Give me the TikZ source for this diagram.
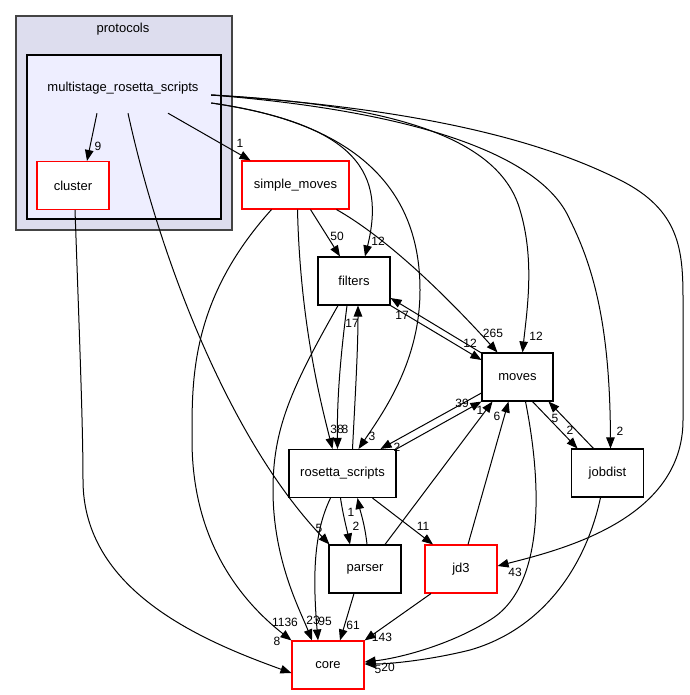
\documentclass[tikz,border=0pt]{standalone}
\usepackage{fontspec}
\setmainfont{Liberation Sans}
\usepackage{xcolor}
\usetikzlibrary{arrows.meta,positioning,calc}
\definecolor{outerfill}{HTML}{DDDDEE}
\definecolor{innerfill}{HTML}{EEEEFF}
\definecolor{outerline}{HTML}{444444}
\definecolor{dirred}{HTML}{FF0000}

\begin{document}
\begin{tikzpicture}[x=1pt, y=-1pt, >={Triangle[length=11pt,width=8.5pt]},
    dir-node/.style={rectangle, draw=black, fill=white, line width=1.1pt, minimum width=72pt,
                minimum height=48pt, inner sep=0pt, font=\fontsize{13}{15}\selectfont},
    red-node/.style={dir-node, draw=dirred},
    wide/.style={minimum width=107pt},
    lbl/.style={inner sep=0pt, font=\fontsize{12}{14}\selectfont},
    dep/.style={->, line width=1pt}]
    \useasboundingbox (0,0) rectangle (689,695);
    % protocols folder and the inner folder
    \draw[fill=outerfill, draw=outerline, line width=1.4pt] (16,16) rectangle (232,230);
    \node[font=\fontsize{13}{15}\selectfont] (protocols) at (123,29) {protocols};
    \draw[fill=innerfill, draw=black, line width=1.2pt] (27,55) rectangle (221,219);
    \node[minimum width=176pt, minimum height=50pt, inner sep=0pt, font=\fontsize{13}{15}\selectfont] (ms) at (123,88) {multistage\_rosetta\_scripts};
    % directories
    \node[red-node] (cluster) at (73,185.5) {cluster};
    \node[red-node, wide] (simple) at (295.5,185) {simple\_moves};
    \node[dir-node] (filters) at (354,281) {filters};
    \node[dir-node, minimum width=71pt] (moves) at (517.5,377) {moves};
    \node[dir-node, wide] (rosetta) at (342.5,473.5) {rosetta\_scripts};
    \node[dir-node] (jobdist) at (607.5,473) {jobdist};
    \node[dir-node] (parser) at (365,569) {parser};
    \node[red-node] (jd3) at (461,569) {jd3};
    \node[red-node] (core) at (328,665) {core};
    % dependencies out of multistage_rosetta_scripts
    \draw[dep] ([xshift=-26]ms.south) -- ([xshift=14]cluster.north);
    \draw[dep] ([xshift=45]ms.south) -- ([xshift=-45]simple.north);
    \draw[dep] ([xshift=5]ms.south) .. controls (160,260) and (230,440) .. ([xshift=1]parser.north west);
    \draw[dep] ([yshift=-15]ms.east) .. controls (360,125) and (385,175) .. ([xshift=11]filters.north);
    \draw[dep] ([yshift=-15]ms.east) .. controls (370,125) and (420,200) .. (420,290)
        .. controls (420,360) and (385,410) .. ([xshift=16]rosetta.north);
    \draw[dep] ([yshift=-7]ms.east) .. controls (400,105) and (500,140) .. (520,210)
        .. controls (535,260) and (527,310) .. ([xshift=5]moves.north);
    \draw[dep] ([yshift=-7]ms.east) .. controls (400,110) and (540,150) .. (570,220)
        .. controls (595,270) and (610,330) .. ([xshift=3]jobdist.north);
    \draw[dep] ([yshift=-7]ms.east) .. controls (450,110) and (560,150) .. (620,180)
        .. controls (680,210) and (683,250) .. (683,300) -- (683,420)
        .. controls (683,520) and (560,550) .. ([yshift=3]jd3.east);
    % simple_moves
    \draw[dep] ([xshift=15]simple.south) -- ([xshift=-14]filters.north);
    \draw[dep] ([xshift=41]simple.south) .. controls (390,240) and (450,300) .. ([xshift=-20]moves.north);
    \draw[dep] ([xshift=2]simple.south) .. controls (300,320) and (320,400) .. ([xshift=-10]rosetta.north);
    \draw[dep] ([xshift=-24]simple.south) .. controls (190,300) and (192,380) .. (192,440)
        .. controls (192,540) and (240,600) .. (core.north west);
    % filters
    \draw[dep] ([xshift=-7]filters.south) .. controls (340,360) and (337,400) .. ([xshift=-5]rosetta.north);
    \draw[dep] (filters.south east) -- ([yshift=17]moves.west);
    \draw[dep] ([xshift=-16]filters.south) .. controls (290,390) and (273,430) .. (273,490)
        .. controls (273,560) and (300,610) .. ([xshift=-16]core.north);
    % moves
    \draw[dep] ([yshift=24]moves.west) -- ([yshift=-17]filters.east);
    \draw[dep] ([yshift=-16]moves.west) -- ([xshift=38]rosetta.north);
    \draw[dep] ([xshift=15]moves.south) -- ([xshift=-30]jobdist.north);
    \draw[dep] ([xshift=8]moves.south) .. controls (545,500) and (540,590) .. (490,620)
        .. controls (450,645) and (400,658) .. ([yshift=3]core.east);
    % rosetta_scripts
    \draw[dep] ([xshift=10]rosetta.north) .. controls (355,400) and (358,350) .. ([xshift=4]filters.south);
    \draw[dep] (rosetta.north east) -- (moves.south west);
    \draw[dep] ([xshift=-2]rosetta.south) .. controls (343,515) and (347,530) .. ([xshift=-15]parser.north);
    \draw[dep] ([xshift=30]rosetta.south) -- ([xshift=-28]jd3.north);
    \draw[dep] ([xshift=-12]rosetta.south) .. controls (315,530) and (312,570) .. ([xshift=-10]core.north);
    % parser, jd3, jobdist, cluster
    \draw[dep] ([xshift=2]parser.north) .. controls (365,525) and (360,510) .. ([xshift=15]rosetta.south);
    \draw[dep] ([xshift=20]parser.north) -- ([xshift=-25]moves.south);
    \draw[dep] ([xshift=-11]parser.south) -- ([xshift=12]core.north);
    \draw[dep] ([xshift=7]jd3.north) -- ([xshift=-9]moves.south);
    \draw[dep] ([xshift=-30]jd3.south) -- (core.north east);
    \draw[dep] ([xshift=-14]jobdist.north) -- ([xshift=31]moves.south);
    \draw[dep] ([xshift=-7]jobdist.south) .. controls (585,570) and (540,630) .. (470,650)
        .. controls (430,660) and (390,664) .. ([yshift=1]core.east);
    \draw[dep] ([xshift=2]cluster.south) .. controls (80,350) and (83,430) .. (83,480)
        .. controls (83,590) and (200,640) .. ([yshift=-8]core.west);
    % edge counts
    \node[lbl] (n-ms-cluster) at (98,146) {9};
    \node[lbl] (n-ms-simple) at (240,143) {1};
    \node[lbl] (n-ms-parser) at (319,528) {5};
    \node[lbl] (n-ms-filters) at (378,241) {12};
    \node[lbl] (n-ms-rosetta) at (372,436) {3};
    \node[lbl] (n-ms-moves) at (536,336) {12};
    \node[lbl] (n-ms-jobdist) at (620,431) {2};
    \node[lbl] (n-ms-jd3) at (515,572) {43};
    \node[lbl] (n-simple-filters) at (337,236) {50};
    \node[lbl] (n-simple-moves) at (493,333) {265};
    \node[lbl] (n-simple-rosetta) at (345,429) {8};
    \node[lbl] (n-simple-core) at (285,622) {1136};
    \node[lbl] (n-filters-rosetta) at (337,429) {38};
    \node[lbl] (n-filters-moves) at (470,343) {12};
    \node[lbl] (n-filters-core) at (313,620) {23};
    \node[lbl] (n-moves-filters) at (402,315) {17};
    \node[lbl] (n-moves-rosetta) at (397,447) {2};
    \node[lbl] (n-moves-jobdist) at (570,430) {2};
    \node[lbl] (n-moves-core) at (378,669) {5};
    \node[lbl] (n-rosetta-filters) at (352,323) {17};
    \node[lbl] (n-rosetta-moves) at (462,403) {39};
    \node[lbl] (n-rosetta-parser) at (356,526) {2};
    \node[lbl] (n-rosetta-jd3) at (423,526) {11};
    \node[lbl] (n-rosetta-core) at (325,621) {95};
    \node[lbl] (n-parser-rosetta) at (351,512) {1};
    \node[lbl] (n-parser-moves) at (480,410) {1};
    \node[lbl] (n-parser-core) at (353,625) {61};
    \node[lbl] (n-jd3-moves) at (497,416) {6};
    \node[lbl] (n-jd3-core) at (382,637) {143};
    \node[lbl] (n-jobdist-moves) at (555,418) {5};
    \node[lbl] (n-jobdist-core) at (388,667) {20};
    \node[lbl] (n-cluster-core) at (277,641) {8};
\end{tikzpicture}
\end{document}
